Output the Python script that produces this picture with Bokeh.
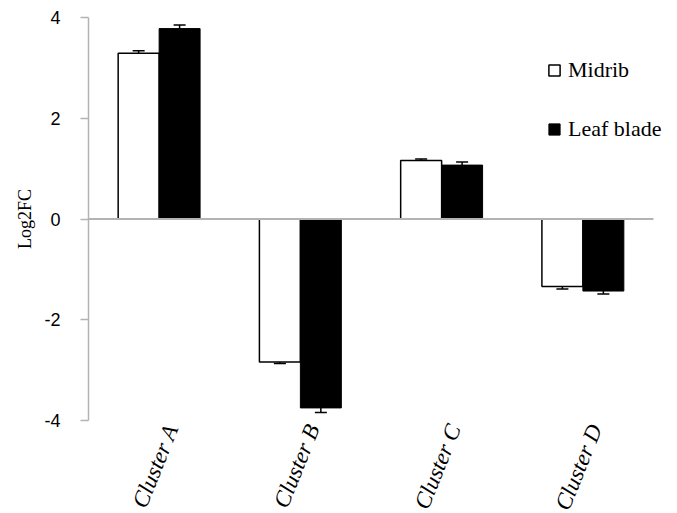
import math
from bokeh.plotting import figure
from bokeh.models import (ColumnDataSource, Range1d, LinearAxis, FixedTicker,
                          Whisker, Legend, LegendItem, TeeHead)
from bokeh.transform import dodge
from bokeh.embed import file_html
from bokeh.resources import INLINE

clusters = ["Cluster A", "Cluster B", "Cluster C", "Cluster D"]
midrib = [3.29, -2.84, 1.16, -1.34]
midrib_err = [0.05, 0.03, 0.03, 0.05]
leaf_blade = [3.78, -3.75, 1.07, -1.43]
leaf_blade_err = [0.07, 0.09, 0.06, 0.06]
y_ticks = [-4, -2, 0, 2, 4]
y_tick_labels = ["-4", "-2", "0", "2", "4"]

n = len(clusters)
pos = [i + 0.5 for i in range(n)]
src = ColumnDataSource(dict(
    pos=pos,
    midrib=midrib,
    leaf=leaf_blade,
    m_up=[v + e for v, e in zip(midrib, midrib_err)],
    m_lo=[v - e for v, e in zip(midrib, midrib_err)],
    l_up=[v + e for v, e in zip(leaf_blade, leaf_blade_err)],
    l_lo=[v - e for v, e in zip(leaf_blade, leaf_blade_err)],
))

cat_px = 565 / n          # pixels per category
frame_w = 582             # frame extends right so the legend is not clipped
x_end = frame_w / cat_px

p = figure(x_range=Range1d(0, x_end), y_range=Range1d(-4, 4),
           frame_width=frame_w, frame_height=403,
           min_border_left=88, min_border_right=4, min_border_top=17, min_border_bottom=90,
           output_backend="svg", toolbar_location=None, tools="")

p.background_fill_color = "white"
p.border_fill_color = "white"
p.outline_line_color = None
p.xgrid.visible = False
p.ygrid.visible = False
p.xaxis.visible = False

bw = 0.29
r1 = p.vbar(x=dodge("pos", -bw / 2), top="midrib", bottom=0, width=bw,
            source=src, fill_color="white", line_color="black", line_width=1.5)
r2 = p.vbar(x=dodge("pos", bw / 2), top="leaf", bottom=0, width=bw,
            source=src, fill_color="black", line_color="black", line_width=1)

for off, up, lo in [(-bw / 2, "m_up", "m_lo"), (bw / 2, "l_up", "l_lo")]:
    w = Whisker(base=dodge("pos", off), upper=up, lower=lo, source=src,
                line_color="black", line_width=1.5,
                upper_head=TeeHead(size=12, line_color="black", line_width=1.5),
                lower_head=TeeHead(size=12, line_color="black", line_width=1.5))
    p.add_layout(w)

# zero (category axis) line across the category area
p.segment(x0=[0], x1=[n], y0=[0], y1=[0], line_color="#b3b3b3", line_width=2)

# y axis
ya = p.yaxis[0]
ya.ticker = FixedTicker(ticks=y_ticks)
ya.major_label_overrides = {t: s for t, s in zip(y_ticks, y_tick_labels)}
ya.axis_line_color = "#b3b3b3"
ya.axis_line_width = 1.5
ya.major_tick_line_color = "#b3b3b3"
ya.major_tick_line_width = 1.5
ya.major_tick_out = 8
ya.major_tick_in = 0
ya.minor_tick_line_color = None
ya.major_label_text_font = "Liberation Sans"
ya.major_label_text_font_size = "18px"
ya.major_label_text_color = "black"
ya.major_label_standoff = 20
ya.axis_label = "Log2FC"
ya.axis_label_text_font = "Liberation Serif"
ya.axis_label_text_font_style = "normal"
ya.axis_label_text_font_size = "18px"
ya.axis_label_text_color = "black"
ya.axis_label_standoff = 6

# category label axis (shifted like the original's rotated labels)
shift = 0.09
p.extra_x_ranges = {"lab": Range1d(-shift, x_end - shift)}
lab = LinearAxis(x_range_name="lab", ticker=FixedTicker(ticks=pos),
                 major_label_overrides={t: c for t, c in zip(pos, clusters)})
lab.axis_line_color = None
lab.major_tick_line_color = None
lab.minor_tick_line_color = None
lab.major_tick_out = 0
lab.major_tick_in = 0
lab.major_label_standoff = 5
lab.major_label_orientation = math.radians(68)
lab.major_label_text_font = "Liberation Serif"
lab.major_label_text_font_style = "italic"
lab.major_label_text_font_size = "23px"
lab.major_label_text_color = "black"
p.add_layout(lab, "below")

legend = Legend(items=[LegendItem(label="Midrib", renderers=[r1]),
                       LegendItem(label="Leaf blade", renderers=[r2])],
                location=(459, 278), orientation="vertical",
                glyph_width=14, glyph_height=14, label_height=20,
                label_standoff=7, spacing=33, padding=0, margin=0,
                border_line_color=None, background_fill_alpha=0,
                label_text_font="Liberation Serif", label_text_font_size="22px",
                label_text_color="black")
p.add_layout(legend)

open("out.html", "w").write(file_html(p, INLINE))
